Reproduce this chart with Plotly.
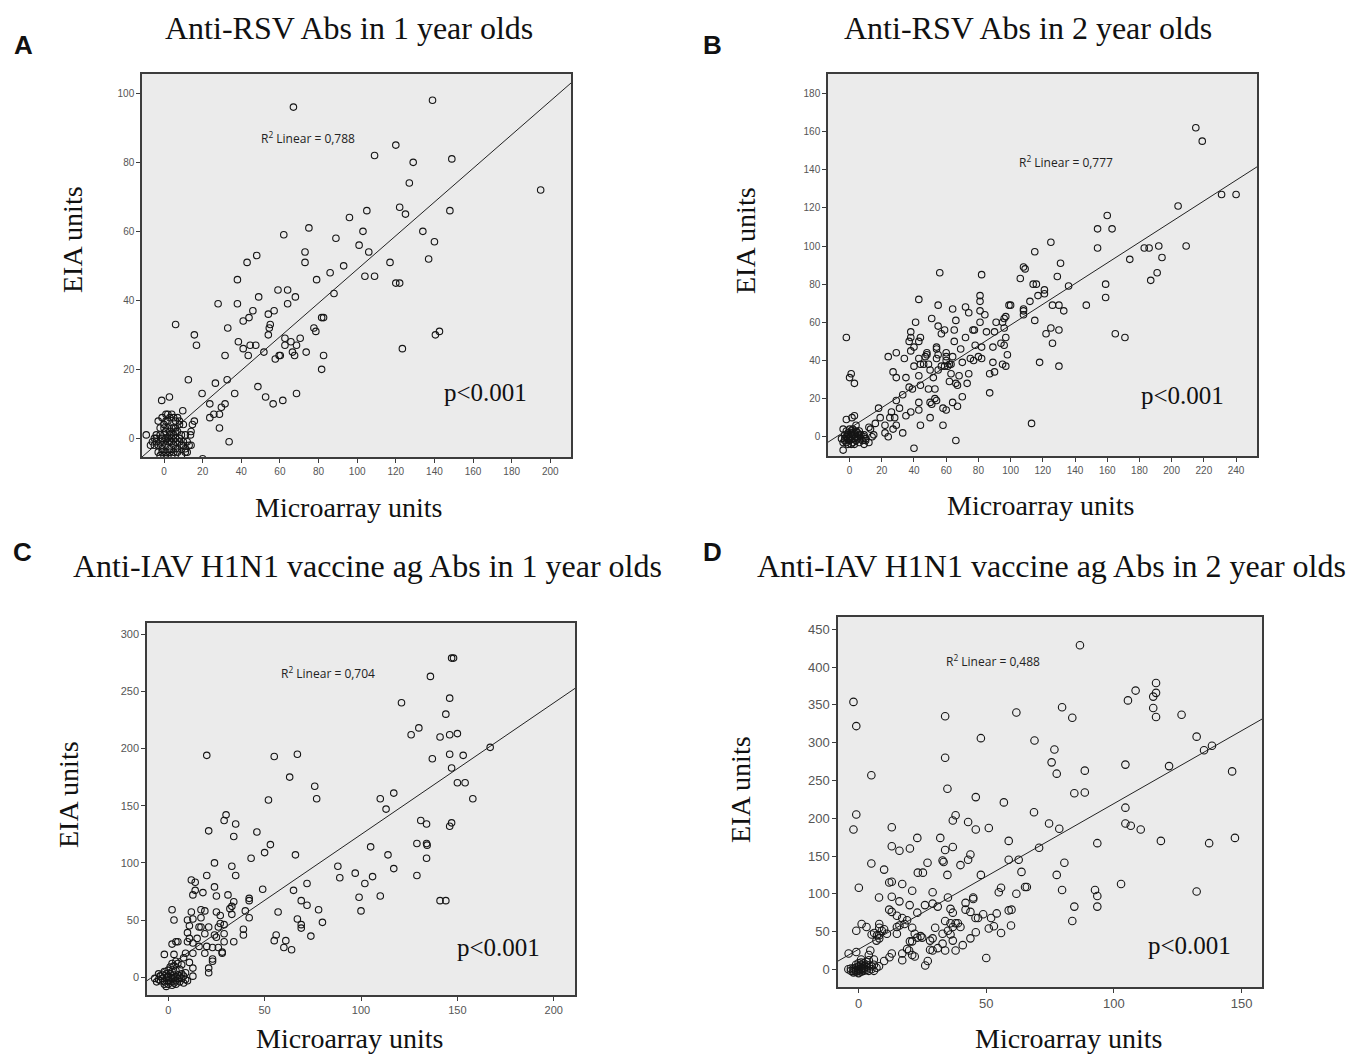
import plotly.graph_objects as go

# ---------------- DATA ----------------
titles = ["Anti-RSV Abs in 1 year olds", "Anti-RSV Abs in 2 year olds",
          "Anti-IAV H1N1 vaccine ag Abs in 1 year olds", "Anti-IAV H1N1 vaccine ag Abs in 2 year olds"]
panel_letters = ["A", "B", "C", "D"]
r2_labels = ["0,788", "0,777", "0,704", "0,488"]
p_label = "p<0.001"
x_title = "Microarray units"
y_title = "EIA units"

# fitted line (intercept, slope)
fit_rsv1 = (0.17, 0.488)
fit_rsv2 = (4.4, 0.542)
fit_iav1 = (9.7, 1.151)
fit_iav2 = (26.5, 1.929)

rsv1_points = [
    (67, 96), (139, 98), (120, 85), (109, 82), (129, 80), (149, 81), (195, 72), (127, 74), (122, 67), (125, 65),
    (148, 66), (105, 66), (96, 64), (75, 61), (62, 59), (89, 58), (103, 60), (101, 56), (106, 54), (134, 60),
    (140, 57), (137, 52), (117, 51), (73, 54), (73, 51), (93, 50), (86, 48), (79, 46), (104, 47), (109, 47),
    (120, 45), (122, 45), (48, 53), (43, 51), (38, 46), (38, 39), (28, 39), (49, 41), (59, 43), (64, 43),
    (68, 41), (64, 39), (88, 42), (46, 37), (44, 35), (41, 34), (57, 37), (54, 36), (55, 33), (54.5, 32),
    (33, 32), (54, 30), (38.5, 28), (41, 26), (44.6, 27), (47.5, 27), (43.6, 24), (31.6, 24), (51.7, 25),
    (57.6, 23), (59.6, 24), (60.2, 24), (62.6, 29), (62.6, 27), (65.7, 28), (66.5, 25), (67.6, 24), (68.6, 27),
    (70.5, 29), (73.6, 25), (77.6, 32), (78.6, 31), (81.6, 35), (82.6, 35), (82.6, 24), (81.6, 20), (142.6, 31),
    (140.5, 30), (123.4, 26), (6, 33), (15.7, 30), (16.8, 27), (12.6, 17), (26.6, 16), (32.7, 17), (36.6, 13),
    (19.7, 13), (23.7, 10), (31.6, 10), (29.7, 9), (28.7, 7), (25.8, 7), (23.7, 6), (28.7, 3), (33.7, -1),
    (48.6, 15), (52.6, 12), (56.5, 10), (61.5, 11), (68.6, 13), (9.7, 8), (2.8, 12), (-1.2, 11), (15.7, 5),
    (14.7, 4), (13.7, 1), (-9.2, 1), (20, -5.9),
    (-3, 5), (-1, 6), (1, 7), (2, 7), (4, 7), (3, 6), (5, 6), (7, 6), (8, 5), (6, 5), (-2, 3), (0, 3), (2, 3),
    (4, 3), (6, 3), (8, 4), (10, 4), (-4, 1), (-2, 1), (0, 1), (1, 2), (3, 1), (5, 1), (7, 2), (9, 1), (11, 1),
    (-6, -1), (-4, -1), (-2, -1), (0, -1), (2, -1), (4, -1), (6, -1), (8, -1), (10, -1), (12, -1), (-5, -2),
    (-3, -2), (-1, -3), (1, -2), (3, -3), (5, -2), (7, -3), (9, -2), (11, -3), (13, -2), (-3, -4), (-1, -4),
    (1, -4), (3, -4), (5, -4), (7, -4), (-2, -5), (0, -5), (2, -5), (4, -5), (9, -5), (12, -4), (-4, 0), (-1, 0),
    (2, 0), (4, 0), (6, 0), (8, 0), (3, 2), (5, 3), (0, 4), (2, 5), (-1, -2), (1, 0), (6, -3), (10, -2), (14, 2),
    (14, -2), (11, -4), (-7, -2), (-5, 0), (3, -1), (6, 2), (1, 5),
]

rsv2_points = [
    (215, 162), (219, 155), (231, 127), (240, 127), (204, 121), (209, 100), (160, 116), (154, 109), (163, 109),
    (154, 99), (183, 99), (186, 99), (192, 100), (194, 94), (174, 93), (191, 86), (187, 82), (159, 80), (159, 73),
    (165, 54), (171, 52), (136, 79), (147, 69), (125, 102), (115, 97), (131, 91), (108, 89), (109, 88), (106, 83),
    (129, 84), (114, 80), (116, 80), (121, 77), (117, 74), (121, 75), (112, 71), (108, 67), (108, 66), (108, 64),
    (126, 69), (130, 69), (133, 66), (99, 69), (100, 69), (115, 61), (97, 63), (96, 62), (91, 60), (95, 60),
    (96, 57), (97, 52), (98, 43), (97, 37), (95, 38), (96, 48), (94, 49), (89, 47), (90, 55), (85, 55), (90, 34),
    (87, 33), (89, 39), (87, 23), (125, 57), (122, 54), (130, 56), (126, 49), (118, 39), (130, 37), (113, 7),
    (82, 85), (81, 74), (81, 71), (81, 66), (84, 64), (81, 60), (72, 68), (74, 65), (76.6, 56), (77.5, 56),
    (78, 48), (82, 47), (80, 42), (82, 41), (75, 41), (77, 40), (72, 52), (69, 46), (70, 39), (73, 28), (74, 33),
    (70, 21), (66, -2), (66, 61), (64, 67), (65, 56), (65, 50), (64, 42), (63, 38), (60, 42), (60, 44), (60, 40),
    (59, 37), (59, 56), (57, 54), (55, 58), (55, 69), (56, 86), (51, 62), (54, 47), (54, 46), (55, 43), (54, 41),
    (55, 35), (52, 31), (49, 38), (50, 35), (48, 43), (47, 42), (49, 25), (53, 25), (50, 18), (51, 17), (53, 20),
    (54, 19), (50, 10), (58, 6), (58, 15), (60, 14), (64, 18), (67, 16), (62, 29), (66, 28), (67, 27), (63, 33),
    (62, 38), (68, 32), (43, 72), (41, 60), (38, 52), (37, 50), (44, 52), (43, 50), (40, 47), (38, 45), (43, 41),
    (44, 38), (40, 37), (43, 32), (44, 27), (38, 55), (34, 41), (35, 31), (37, 26), (39, 25), (43, 18), (43, 14),
    (44, 6), (38, 13), (35, 11), (40, -6), (33, 22), (31, 15), (29, 19), (29, 44), (24, 42), (27, 34), (29, 31),
    (26, 13), (28, 10), (25, 10), (27, 4), (29, 6), (22, 6), (22, 2), (24, 0), (33, 2), (18, 15), (19, 10), (16, 7),
    (12, 5), (13, 4), (15, 1), (14, 0), (9, 0), (9, -4), (10, -1), (-2, 52), (1, 33), (0, 31), (3, 28), (1.5, 10),
    (3, 11), (-2, 9), (4, 6), (-4, -7), (12, -3), (10, -2), (46, 38), (48, 44), (57, 37), (61, 37),
    (-4, 4), (-2, 3), (0, 4), (2, 4), (4, 3), (6, 3), (-3, 1), (-1, 1), (1, 2), (3, 1), (5, 2), (7, 1), (9, 1),
    (-5, -1), (-3, -1), (-1, -1), (1, 0), (3, -1), (5, -1), (7, -1), (-4, -3), (-2, -3), (0, -2), (2, -3),
    (4, -2), (6, -3), (8, -2), (-1, -4), (1, -4), (3, -4), (0, 0), (2, 1), (-2, 0), (4, 0), (1, 3), (-1, 2),
    (3, 2), (0, -1), (2, -1), (-3, -2), (5, 0), (6, 1),
]

iav1_points = [
    (147, 279), (148, 279), (136, 263), (121, 240), (146, 244), (144, 230), (130, 218), (126, 212), (141, 210),
    (146, 212), (150, 213), (167, 201), (137, 191), (146, 195), (153, 194), (147, 183), (150, 170), (154, 170),
    (158, 156), (117, 161), (110, 156), (113, 147), (131, 137), (134, 134), (147, 135), (146, 132), (129, 117),
    (134, 117), (134.3, 115.5), (134, 104), (114, 107), (105, 114), (117, 95), (88, 97), (89, 87), (97, 91),
    (106, 88), (102, 82), (129, 89), (99, 70), (110, 71), (100, 58), (141, 67), (144, 67), (20, 194), (55, 193),
    (67, 195), (63, 175), (76, 167), (77, 156), (52, 155), (30, 142), (29, 137), (35, 134), (21, 128), (34, 123),
    (46, 127), (53, 116), (50, 109), (43, 104), (66, 107), (24, 100), (33, 97), (20, 89), (35, 89), (12, 85),
    (14, 83), (24, 79), (49, 77), (72, 82), (65, 76), (14, 76), (12.8, 72), (18, 74), (31, 72), (25, 71), (42, 69),
    (42, 67), (34, 66), (69, 67), (72, 63), (33, 62), (32, 60), (2, 59), (12, 57), (17, 59), (19, 58), (25, 57),
    (40, 58), (57, 57), (78, 59), (27, 54), (33, 55), (3, 50), (10, 50), (12.8, 51), (17, 52), (42, 52), (67, 51),
    (80, 48), (69, 46), (69, 43), (27, 47), (29, 46), (26, 44), (21, 44), (16, 44), (17, 44), (11, 45), (39, 42),
    (10, 39), (19, 38), (24, 37), (29, 38), (39, 37), (56, 37), (15, 34), (11, 34), (25, 35), (74, 36), (55, 32),
    (61, 32), (34, 31), (29, 31), (5, 31), (2, 29), (4, 31), (10, 31), (12.8, 30), (20, 27), (23, 26), (26, 26),
    (16, 27), (60, 26), (64, 24), (28, 22), (28, 21), (19, 21), (12.8, 21), (9, 21), (-2, 20), (3, 20), (23, 16),
    (23, 14), (8, 17), (11, 13), (21, 8), (21, 4), (12.8, 8), (12.8, 1),
    (-7, -1), (-5, -2), (-3, -1), (-1, 0), (1, 0), (3, 0), (5, -1), (7, -1), (9, -2), (-6, -4), (-4, -3),
    (-2, -4), (0, -3), (2, -4), (4, -3), (6, -4), (8, -5), (-3, 2), (-1, 3), (1, 3), (3, 2), (5, 2), (7, 3),
    (-2, 5), (0, 6), (2, 5), (4, 6), (6, 7), (1, 9), (3, 10), (5, 12), (7, 11), (0, -6), (2, -7), (-1, -8),
    (4, -6), (10, -3), (-4, 1), (0, 1), (2, -1), (3, -5), (-2, -6), (6, 0), (8, 1), (9, 4), (-5, 3), (4, 14),
    (2, 12),
]

iav2_points = [
    (86.7, 429), (116.5, 379), (116.5, 366), (115.4, 361), (108.5, 369), (105.5, 356), (115.4, 346), (116.5, 334),
    (126.5, 337), (79.7, 347), (83.7, 333), (61.8, 340), (33.9, 335), (-2, 354), (-0.9, 322), (68.9, 303),
    (47.9, 306), (132.4, 308), (135.3, 290), (138.4, 296), (76.7, 291), (75.6, 274), (77.6, 259), (88.6, 263),
    (104.5, 271), (121.6, 269), (146.3, 262), (5, 257), (33.9, 280), (34.8, 239), (84.5, 233), (88.6, 234),
    (45.9, 228), (56.9, 221), (68.7, 208), (104.5, 214), (-0.9, 205), (-2, 185), (38, 204), (36.9, 197),
    (42.9, 195), (45.9, 185), (51, 187), (74.6, 193), (78.6, 186), (104.5, 193), (106.6, 190), (110.5, 185),
    (118.4, 170), (137.3, 167), (147.4, 174), (93.5, 167), (70.7, 161), (58.8, 170), (13, 188), (13, 163),
    (16, 157), (20.1, 160), (23, 174), (32, 174), (33.9, 158), (36.9, 162), (43.8, 152), (32.9, 144), (33.3, 142),
    (58.8, 145), (62.7, 145), (42.9, 145), (80.6, 141), (5, 140), (10, 132), (27, 141), (23.2, 128), (25.2, 128),
    (34.8, 125), (39.9, 138), (47.9, 125), (63.8, 129), (77.6, 125), (79.7, 105), (92.6, 105), (93.5, 97),
    (93.5, 83), (84.5, 83), (83.7, 64), (102.8, 113), (132.4, 103), (0.1, 108), (12, 115), (13, 116), (17.1, 113),
    (21, 104), (29, 102), (55.8, 108), (54.9, 102), (61.8, 100), (65.2, 109), (65.9, 109), (8, 95), (13, 96),
    (16, 90), (35, 95), (44.9, 95), (44.9, 93), (20, 85), (26, 85), (29, 87), (31, 83), (41.9, 88), (58.8, 78),
    (59.9, 79), (36, 80), (36.9, 75), (41.9, 79), (43.8, 76), (48.8, 73), (54.1, 74), (51.9, 68), (45.8, 68),
    (46.8, 68), (12, 79), (13, 76), (15, 71), (23, 75), (17.1, 68), (19, 65), (15, 56), (16, 58), (18, 60),
    (8.1, 60), (8.1, 55), (3.1, 56), (1.2, 60), (-0.9, 51), (9.1, 51), (10, 53), (5.1, 46), (6.1, 48), (7.2, 45),
    (8.1, 45), (8.1, 41), (7, 38), (11.1, 47), (15, 47), (30, 55), (33.9, 64), (36, 61), (38, 61), (38.9, 61),
    (39.9, 56), (36.9, 56), (35, 51), (32.9, 47), (36, 46), (36.9, 38), (43.8, 41), (45.9, 49), (51, 54), (53, 57),
    (55.8, 48), (59.7, 58), (21, 55), (22, 47), (24.3, 44), (21, 37), (20.1, 37), (23, 42), (24.9, 42), (28, 38),
    (29, 41), (32.9, 34), (31, 28), (29, 25), (28, 26), (33.9, 25), (38, 25), (40.8, 32), (19.8, 25), (19, 27),
    (21, 19), (22, 17), (17.1, 21), (13, 21), (12.1, 16), (17.1, 12), (10, 11), (6, 13), (4.6, 25), (4, 19),
    (26.1, 5), (27.1, 11), (50, 15), (-3.9, 21), (-0.9, 23),
    (-4, 0), (-3, -2), (-2, -4), (-1, -3), (0, -5), (1, -3), (2, -2), (3, -1), (-2, 1), (-1, 2), (0, 0), (1, 1),
    (2, 2), (3, 3), (4, 5), (5, 4), (6, 6), (0, 4), (1, 6), (2, 8), (3, 10), (4, 12), (-1, -1), (0, -2), (1, -1),
    (2, 0), (-3, 1), (0, 3), (5, 0), (6, -2), (7, 2), (8, 4), (-1, 6), (1, 9), (3, 6), (4, -2), (2, 4), (-2, -2),
    (0, 8), (1, 13),
]

# axis ranges / ticks
x_ranges = [[-11.4, 210.7], [-13.4, 253.0], [-11.0, 211.0], [-8.06, 158.0]]
y_ranges = [[-5.4, 105.6], [-10.1, 190.2], [-15.5, 309.7], [-23.4, 466.4]]
x_dticks = [20, 20, 50, 50]
y_dticks = [20, 20, 50, 50]

# ---------------- LAYOUT GEOMETRY (px) ----------------
W, H = 1356, 1056
boxes = [(142, 571, 74, 457), (828, 1257, 74, 456), (147, 575, 623, 995), (838, 1262, 617, 987)]
tick_sizes = [10, 10, 11, 13]
marker_sizes = [6.5, 6.5, 6.5, 7.5]

def px(x):
    return x / W

def py(y):
    return 1 - y / H

fig = go.Figure()
datasets = [rsv1_points, rsv2_points, iav1_points, iav2_points]
fits = [fit_rsv1, fit_rsv2, fit_iav1, fit_iav2]

for i in range(4):
    sfx = "" if i == 0 else str(i + 1)
    pts = datasets[i]
    xs = [p[0] for p in pts]
    ys = [p[1] for p in pts]
    fig.add_trace(go.Scatter(
        x=xs, y=ys, mode="markers", xaxis="x" + sfx, yaxis="y" + sfx,
        marker=dict(symbol="circle-open", size=marker_sizes[i], color="#151515",
                    line=dict(width=1.1, color="#151515")),
        showlegend=False, hoverinfo="skip"))
    a, b = fits[i]
    lx = x_ranges[i]
    fig.add_trace(go.Scatter(
        x=lx, y=[a + b * v for v in lx], mode="lines", xaxis="x" + sfx, yaxis="y" + sfx,
        line=dict(color="#222", width=1), showlegend=False, hoverinfo="skip"))

    l, r, t, btm = boxes[i]
    axis_common = dict(showgrid=False, zeroline=False, showline=True, mirror=True,
                       linecolor="#3c3c3c", linewidth=1.5, ticks="outside", ticklen=4,
                       tickcolor="#3c3c3c", tickwidth=1,
                       tickfont=dict(family="Liberation Sans", size=tick_sizes[i], color="#555"))
    fig.layout["xaxis" + sfx] = dict(axis_common, domain=[px(l), px(r)], range=x_ranges[i],
                                     tick0=0, dtick=x_dticks[i], anchor="y" + sfx)
    fig.layout["yaxis" + sfx] = dict(axis_common, domain=[py(btm), py(t)], range=y_ranges[i],
                                     tick0=0, dtick=y_dticks[i], anchor="x" + sfx)

# ---------------- TEXT ----------------
serif = "Liberation Serif"
title_pos = [(349, 28), (1028, 28), (367, 566), (1051, 566)]
letter_pos = [(23, 45), (712, 45), (22, 552), (712, 552)]
ytitle_pos = [(72, 240), (745, 240), (68, 795), (740, 790)]
xtitle_pos = [(348, 507), (1040, 505), (350, 1038), (1068, 1038)]
p_pos = [(485, 393), (1182, 395), (498, 947), (1189, 945)]
r2_pos = [(308, 138), (1066, 162), (328, 673), (993, 661)]

ann = []
for i in range(4):
    ann.append(dict(text=titles[i], x=px(title_pos[i][0]), y=py(title_pos[i][1]), xref="paper", yref="paper",
                    showarrow=False, xanchor="center", yanchor="middle",
                    font=dict(family=serif, size=32, color="#111")))
    ann.append(dict(text="<b>" + panel_letters[i] + "</b>", x=px(letter_pos[i][0]), y=py(letter_pos[i][1]),
                    xref="paper", yref="paper", showarrow=False, xanchor="center", yanchor="middle",
                    font=dict(family="Liberation Sans", size=26, color="#111")))
    ann.append(dict(text=y_title, x=px(ytitle_pos[i][0]), y=py(ytitle_pos[i][1]), xref="paper", yref="paper",
                    showarrow=False, xanchor="center", yanchor="middle", textangle=-90,
                    font=dict(family=serif, size=28, color="#111")))
    ann.append(dict(text=x_title, x=px(xtitle_pos[i][0]), y=py(xtitle_pos[i][1]), xref="paper", yref="paper",
                    showarrow=False, xanchor="center", yanchor="middle",
                    font=dict(family=serif, size=28, color="#111")))
    ann.append(dict(text=p_label.replace("<", "&lt;"), x=px(p_pos[i][0]), y=py(p_pos[i][1]), xref="paper", yref="paper",
                    showarrow=False, xanchor="center", yanchor="middle",
                    font=dict(family=serif, size=25, color="#111")))
    ann.append(dict(text="R<sup>2</sup> Linear = " + r2_labels[i], x=px(r2_pos[i][0]), y=py(r2_pos[i][1]),
                    xref="paper", yref="paper", showarrow=False, xanchor="center", yanchor="middle",
                    font=dict(family="Open Sans", size=12, color="#222")))

fig.update_layout(width=W, height=H, margin=dict(l=0, r=0, t=0, b=0),
                  paper_bgcolor="white", plot_bgcolor="#ebebeb", annotations=ann)

fig.write_html("out.html")
